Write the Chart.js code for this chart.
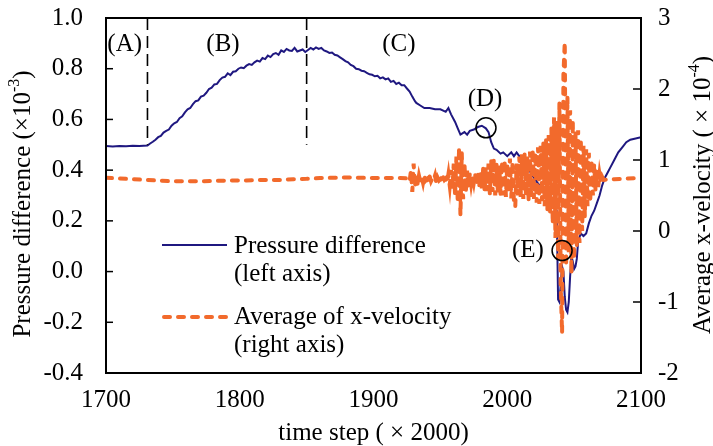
<!DOCTYPE html>
<html>
<head>
<meta charset="utf-8">
<script src="https://cdn.jsdelivr.net/npm/chart.js@4.4.1/dist/chart.umd.min.js"></script>
<style>
  html, body { margin: 0; padding: 0; background: #ffffff; }
  #wrap { width: 713px; height: 446px; position: relative; }
</style>
</head>
<body>
<div id="wrap"><canvas id="c" width="713" height="446"></canvas></div>
<script>
// ---------- data ----------
const xTicks = [1700, 1800, 1900, 2000, 2100];
const leftTicks = [-0.4, -0.2, 0.0, 0.2, 0.4, 0.6, 0.8, 1.0];
const rightTicks = [-2, -1, 0, 1, 2, 3];

// Pressure difference (left axis, ×10^-3)
const pSteps = [1700,1705,1710,1715,1720,1725,1731,1733,1735,1737,1739,1741,1743,1745,1747,1749,1751,1753,1755,1757,1759,1761,1763,1765,1767,1769,1771,1773,1775,1777,1779,1781,1783,1785,1787,1789,1791,1793,1795,1797,1799,1801,1803,1805,1807,1809,1811,1813,1815,1817,1819,1821,1823,1825,1827,1829,1831,1833,1835,1837,1839,1841,1843,1845,1847,1849,1851,1853,1855,1857,1859,1861,1863,1865,1867,1869,1871,1873,1875,1877,1879,1881,1883,1885,1887,1889,1891,1893,1895,1897,1899,1901,1903,1905,1907,1909,1911,1913,1915,1917,1919,1921,1923,1925,1927,1929,1931,1932,1935,1938,1942,1946,1950,1954,1956,1958,1961,1963,1965,1968,1970,1972,1975,1978,1981,1984,1986,1988,1990,1992,1995,1997,2000,2003,2005,2007,2009,2012,2014,2016,2018,2020,2022,2024,2026,2028,2030,2032,2034,2036,2037,2038,2039,2040,2041,2042,2043,2044,2045,2046,2047,2048,2049,2050,2051,2052,2053,2055,2057,2059,2061,2063,2065,2067,2069,2071,2073,2075,2077,2080,2083,2086,2089,2092,2096,2100];
const pValues = [0.495,0.493,0.495,0.494,0.496,0.495,0.497,0.505,0.512,0.52,0.53,0.535,0.548,0.555,0.56,0.575,0.585,0.59,0.605,0.612,0.628,0.64,0.645,0.66,0.672,0.675,0.69,0.694,0.705,0.72,0.725,0.738,0.74,0.755,0.765,0.768,0.782,0.775,0.788,0.79,0.80,0.805,0.802,0.812,0.818,0.815,0.825,0.832,0.828,0.842,0.838,0.852,0.846,0.858,0.862,0.855,0.872,0.866,0.878,0.872,0.87,0.882,0.868,0.872,0.876,0.866,0.874,0.882,0.876,0.884,0.878,0.882,0.872,0.868,0.862,0.864,0.855,0.852,0.845,0.838,0.83,0.825,0.815,0.81,0.80,0.798,0.792,0.79,0.784,0.778,0.776,0.77,0.772,0.762,0.766,0.758,0.762,0.748,0.752,0.74,0.745,0.735,0.735,0.722,0.71,0.69,0.672,0.665,0.655,0.645,0.645,0.64,0.64,0.63,0.645,0.62,0.59,0.565,0.54,0.55,0.54,0.555,0.56,0.57,0.575,0.565,0.55,0.51,0.485,0.48,0.465,0.47,0.455,0.47,0.455,0.47,0.455,0.445,0.43,0.405,0.385,0.37,0.355,0.34,0.335,0.31,0.29,0.27,0.255,0.25,0.24,-0.11,-0.12,-0.05,0.02,0.0,-0.1,-0.15,-0.16,-0.12,-0.02,0.06,0.04,0.01,0.02,0.05,0.12,0.15,0.14,0.15,0.19,0.22,0.24,0.27,0.30,0.34,0.37,0.39,0.41,0.44,0.47,0.49,0.51,0.52,0.525,0.53];

// Average of x-velocity (right axis, ×10^-4)
const vSteps = [1700,1710,1720,1730,1740,1750,1760,1770,1780,1790,1800,1810,1820,1830,1840,1850,1860,1870,1880,1890,1900,1910,1920,
1926,1927,1928,1929,1930,1931,1932,1933,1934,1935,1936,1937,1938,1939,1940,1941,1942,1943,1944,1945,1946,1947,1948,1949,1950,1951,1952,1953,1954,1955,1956,1957,1958,1959,1960,1961,1962,1963,1964,1965,1966,1967,1968,1969,1970,1971,1972,1973,1974,1975,1976,1977,1978,1979,1980,1981,1982,1983,1984,1985,1986,1987,1988,1989,1990,1991,1992,1993,1994,1995,1996,1997,1998,1999,2000,2001,2002,2003,2004,2005,2006,2007,2008,2009,2010,2011,2012,2013,2014,2015,2016,2017,2018,2019,2020,2021,2022,2023,2024,2025,2026,2027,2028,2029,2030,2031,2032,2033,2034,2035,2036,2037,2038,2039,2040,2041,2042,2043,2044,2045,2046,2047,2048,2049,2050,2051,2052,2053,2054,2055,2056,2057,2058,2059,2060,2061,2062,2063,2064,2065,2066,2067,2068,2069,2070,2071,2072,2080,2090,2100];
const vValues = [0.75,0.74,0.73,0.72,0.71,0.70,0.70,0.70,0.705,0.71,0.71,0.715,0.72,0.72,0.73,0.735,0.745,0.75,0.755,0.75,0.745,0.745,0.745,
0.74,0.70,0.85,0.55,0.95,0.62,0.80,0.66,0.78,0.70,0.76,0.68,0.79,0.71,0.73,0.69,0.77,0.70,0.74,0.72,0.78,0.67,0.75,0.71,0.73,0.69,0.76,0.72,0.74,0.68,0.80,0.64,0.86,0.60,0.95,0.50,1.05,0.40,1.18,0.22,1.10,0.45,0.95,0.55,0.85,0.62,0.80,0.66,0.78,0.68,0.80,0.64,0.84,0.62,0.82,0.60,0.88,0.58,0.90,0.56,0.95,0.52,1.00,0.55,1.02,0.50,0.95,0.55,0.92,0.52,0.98,0.50,1.00,0.48,0.95,0.55,1.02,0.46,0.98,0.40,0.34,0.95,0.50,1.05,0.48,1.08,0.45,1.10,0.50,1.05,0.42,1.12,0.48,1.15,0.45,1.10,0.40,1.18,0.38,1.20,0.42,1.25,0.35,1.30,0.30,1.35,0.25,1.45,0.10,1.60,-0.10,1.55,-0.40,1.80,-0.80,-1.44,2.20,2.66,-0.50,1.90,-0.30,1.70,-0.60,1.56,-0.40,1.40,-0.20,1.42,-0.17,1.30,0.00,1.20,0.20,1.15,0.35,1.10,0.40,1.00,0.50,0.95,0.58,0.86,0.62,0.80,0.68,0.76,0.72,0.73,0.74,0.745];

// annotations
const phaseLabels = ['(A)', '(B)', '(C)'];
const phaseLabelX = [1714, 1787.5, 1919];
const phaseLabelY = [0.894, 0.894, 0.894];
const phaseBounds = [1731, 1850];
const phaseBoundBottom = 0.5;
const eventLabels = ['(D)', '(E)'];
const eventLabelX = [1983.4, 2015.5];
const eventLabelY = [0.677, 0.083];
const eventCircleX = [1984.1, 2041];
const eventCircleY = [0.567, 0.083];

// ---------- styling ----------
const NAVY = '#1f1880';
const ORANGE = '#f26a2c';
const FONT = '"Liberation Serif", "Times New Roman", serif';
const FS = 25;

const pData = pSteps.map((s, i) => ({ x: s, y: pValues[i] }));
const vData = vSteps.map((s, i) => ({ x: s, y: vValues[i] }));

function drawRich(ctx, parts, x, y, align) {
  let total = 0;
  const widths = parts.map(p => {
    ctx.font = (p.sup ? Math.round(FS * 0.62) : FS) + 'px ' + FONT;
    const w = ctx.measureText(p.t).width;
    total += w;
    return w;
  });
  let cx = align === 'center' ? x - total / 2 : x;
  parts.forEach((p, i) => {
    ctx.font = (p.sup ? Math.round(FS * 0.62) : FS) + 'px ' + FONT;
    ctx.textAlign = 'left';
    ctx.textBaseline = 'middle';
    ctx.fillText(p.t, cx, p.sup ? y - 8 : y);
    cx += widths[i];
  });
}

function zeroPad(s) { s.paddingTop = 0; s.paddingBottom = 0; s.paddingLeft = 0; s.paddingRight = 0; }

const decor = {
  id: 'decor',
  afterDatasetsDraw(chart) {
    const ctx = chart.ctx;
    const a = chart.chartArea;
    const xs = chart.scales.x, yl = chart.scales.y, yr = chart.scales.y2;
    ctx.save();
    ctx.fillStyle = '#000';
    ctx.strokeStyle = '#000';

    // phase boundary dashed lines
    ctx.lineWidth = 1.6;
    ctx.setLineDash([12, 6]);
    phaseBounds.forEach(b => {
      const px = xs.getPixelForValue(b);
      ctx.beginPath();
      ctx.moveTo(px, a.top);
      ctx.lineTo(px, yl.getPixelForValue(phaseBoundBottom));
      ctx.stroke();
    });
    ctx.setLineDash([]);

    // phase / event labels
    ctx.font = FS + 'px ' + FONT;
    ctx.textAlign = 'center';
    ctx.textBaseline = 'middle';
    phaseLabels.forEach((t, i) => {
      ctx.fillText(t, xs.getPixelForValue(phaseLabelX[i]), yl.getPixelForValue(phaseLabelY[i]));
    });
    eventLabels.forEach((t, i) => {
      ctx.fillText(t, xs.getPixelForValue(eventLabelX[i]), yl.getPixelForValue(eventLabelY[i]));
    });
    ctx.lineWidth = 1.5;
    eventCircleX.forEach((cx, i) => {
      ctx.beginPath();
      ctx.arc(xs.getPixelForValue(cx), yl.getPixelForValue(eventCircleY[i]), 10, 0, Math.PI * 2);
      ctx.stroke();
    });

    // legend
    const lx0 = a.left + 56, lx1 = a.left + 121, tx = a.left + 128;
    const ly1 = a.top + 227, ly2 = a.top + 299;
    ctx.lineWidth = 2;
    ctx.strokeStyle = NAVY;
    ctx.beginPath(); ctx.moveTo(lx0, ly1); ctx.lineTo(lx1, ly1); ctx.stroke();
    ctx.strokeStyle = ORANGE;
    ctx.lineWidth = 4;
    ctx.lineCap = 'round';
    ctx.setLineDash([6, 8]);
    ctx.beginPath(); ctx.moveTo(lx0 + 2, ly2); ctx.lineTo(lx1, ly2); ctx.stroke();
    ctx.setLineDash([]);
    ctx.lineCap = 'butt';
    ctx.fillStyle = '#000';
    ctx.font = FS + 'px ' + FONT;
    ctx.textAlign = 'left';
    ctx.textBaseline = 'middle';
    ctx.fillText('Pressure difference', tx, ly1 + 1);
    ctx.fillText('(left axis)', tx, ly1 + 29);
    ctx.fillText('Average of x-velocity', tx, ly2);
    ctx.fillText('(right axis)', tx, ly2 + 28);

    // plot frame
    ctx.strokeStyle = '#000';
    ctx.lineWidth = 2;
    ctx.strokeRect(a.left, a.top, a.right - a.left, a.bottom - a.top);

    // inward tick marks
    ctx.lineWidth = 1.5;
    yl.ticks.forEach(t => {
      const py = yl.getPixelForValue(t.value);
      ctx.beginPath(); ctx.moveTo(a.left, py); ctx.lineTo(a.left + 7, py); ctx.stroke();
    });
    yr.ticks.forEach(t => {
      const py = yr.getPixelForValue(t.value);
      ctx.beginPath(); ctx.moveTo(a.right, py); ctx.lineTo(a.right - 8, py); ctx.stroke();
    });

    // axis titles
    ctx.fillStyle = '#000';
    ctx.save();
    ctx.translate(23, 204);
    ctx.rotate(-Math.PI / 2);
    drawRich(ctx, [{t: 'Pressure difference (×10'}, {t: '-3', sup: true}, {t: ')'}], 0, 0, 'center');
    ctx.restore();
    ctx.save();
    ctx.translate(703, 195);
    ctx.rotate(-Math.PI / 2);
    drawRich(ctx, [{t: 'Average x-velocity ( × 10'}, {t: '-4', sup: true}, {t: ')'}], 0, 0, 'center');
    ctx.restore();
    drawRich(ctx, [{t: 'time step ( × 2000)'}], (a.left + a.right) / 2, 433, 'center');

    ctx.restore();
  }
};

new Chart(document.getElementById('c'), {
  type: 'line',
  data: {
    datasets: [
      {
        label: 'Average of x-velocity (right axis)',
        data: vData,
        yAxisID: 'y2',
        borderColor: ORANGE,
        borderWidth: 4,
        borderDash: [6, 8],
        borderCapStyle: 'round',
        pointRadius: 0,
        tension: 0,
        order: 0
      },
      {
        label: 'Pressure difference (left axis)',
        data: pData,
        yAxisID: 'y',
        borderColor: NAVY,
        borderWidth: 2,
        pointRadius: 0,
        tension: 0,
        order: 1
      }
    ]
  },
  options: {
    responsive: false,
    animation: false,
    layout: { padding: { top: 18, left: 0, right: 0, bottom: 0 } },
    plugins: { legend: { display: false }, tooltip: { enabled: false } },
    scales: {
      x: {
        type: 'linear',
        min: 1700, max: 2100,
        afterBuildTicks: s => { s.ticks = xTicks.map(v => ({ value: v })); },
        ticks: { callback: v => String(v), color: '#000', font: { family: FONT, size: FS }, padding: 12, maxRotation: 0 },
        grid: { display: false, drawTicks: false },
        border: { display: false },
        afterFit: s => { s.height = 73; zeroPad(s); }
      },
      y: {
        position: 'left',
        min: -0.4, max: 1.0,
        afterBuildTicks: s => { s.ticks = leftTicks.map(v => ({ value: v })); },
        ticks: { callback: v => Number(v).toFixed(1), color: '#000', font: { family: FONT, size: FS }, padding: 23 },
        grid: { display: false, drawTicks: false },
        border: { display: false },
        afterFit: s => { s.width = 106; zeroPad(s); }
      },
      y2: {
        position: 'right',
        min: -2, max: 3,
        afterBuildTicks: s => { s.ticks = rightTicks.map(v => ({ value: v })); },
        ticks: { callback: v => String(v), color: '#000', font: { family: FONT, size: FS }, padding: 17 },
        grid: { display: false, drawTicks: false },
        border: { display: false },
        afterFit: s => { s.width = 72; zeroPad(s); }
      }
    }
  },
  plugins: [decor]
});
</script>
</body>
</html>
